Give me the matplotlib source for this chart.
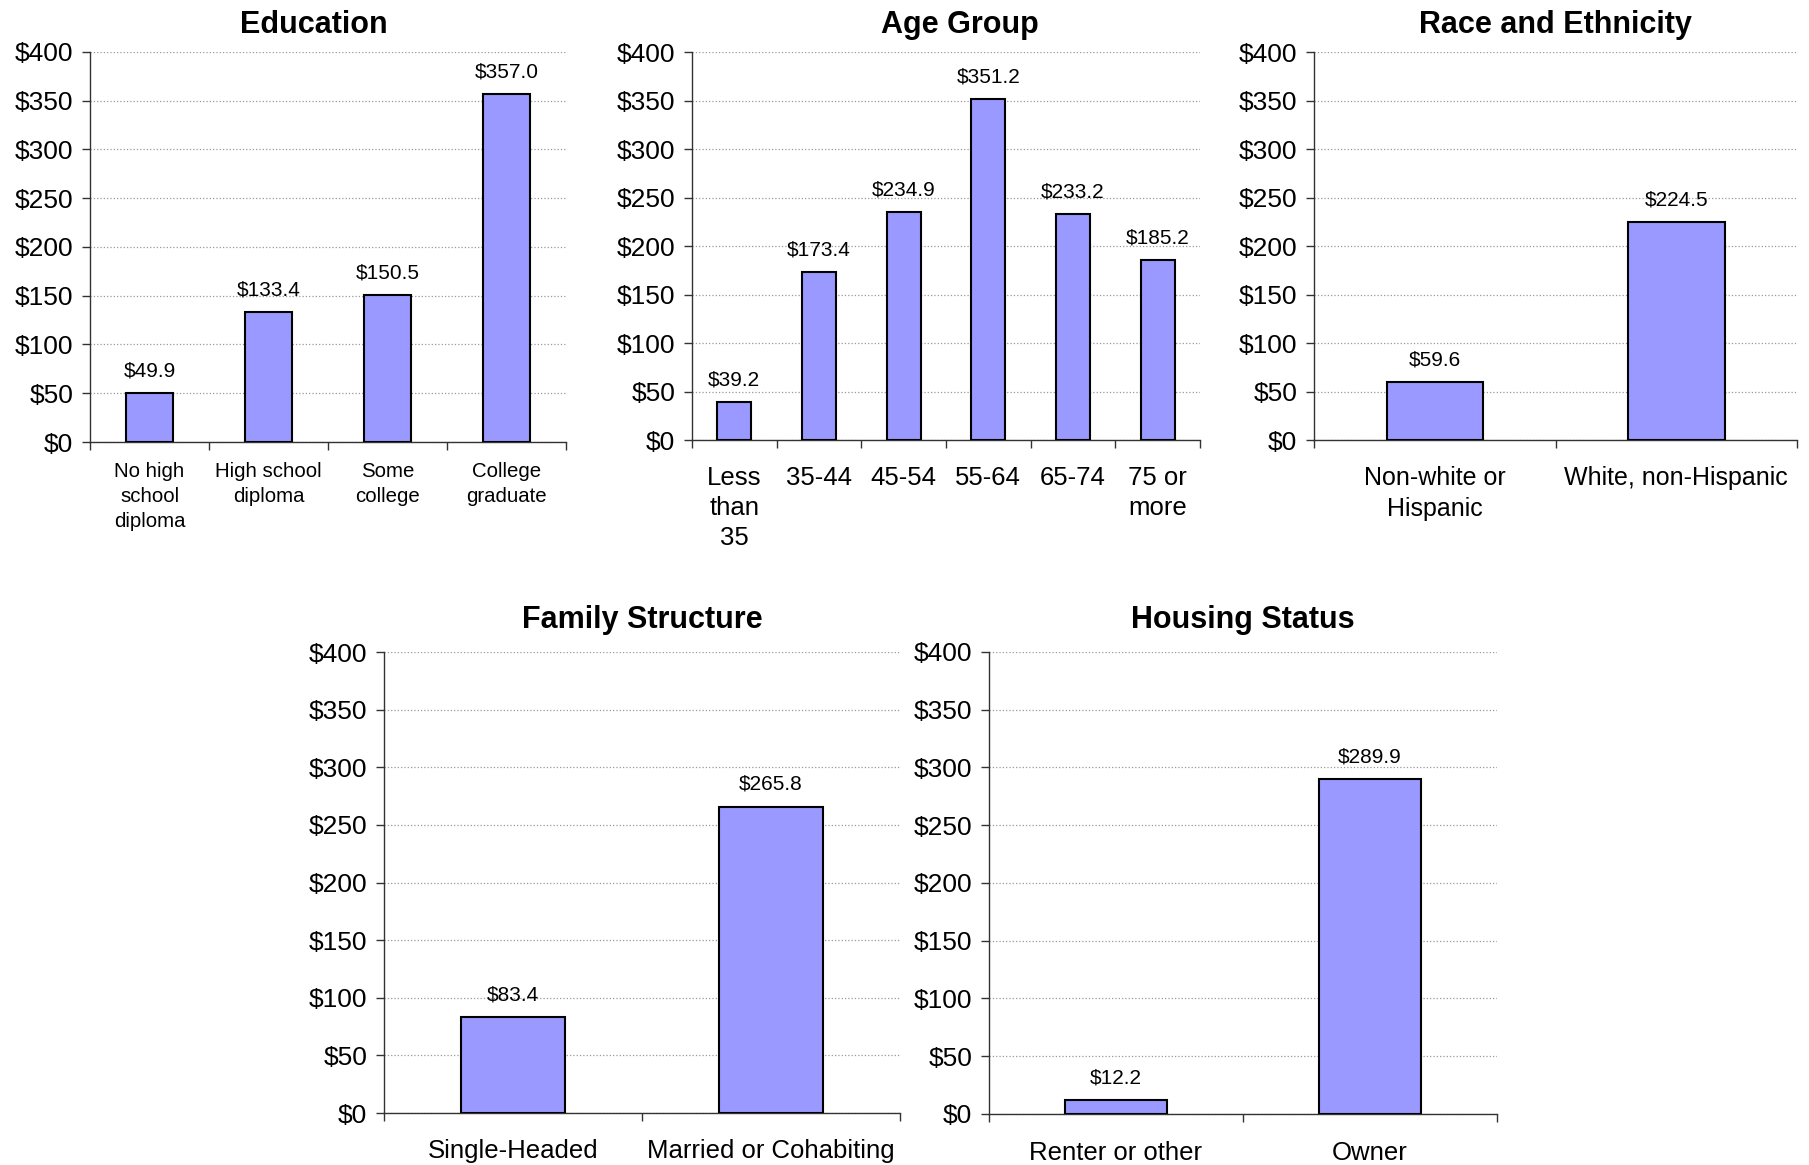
import matplotlib
matplotlib.use("Agg")
import matplotlib.pyplot as plt
from matplotlib.ticker import FixedLocator, FuncFormatter

plt.rcParams['font.family'] = ['Liberation Sans', 'DejaVu Sans']

edu_labels = ["No high\nschool\ndiploma", "High school\ndiploma", "Some\ncollege", "College\ngraduate"]
edu_values = [49.9, 133.4, 150.5, 357.0]

age_labels = ["Less\nthan\n35", "35-44", "45-54", "55-64", "65-74", "75 or\nmore"]
age_values = [39.2, 173.4, 234.9, 351.2, 233.2, 185.2]

race_labels = ["Non-white or\nHispanic", "White, non-Hispanic"]
race_values = [59.6, 224.5]

family_labels = ["Single-Headed", "Married or Cohabiting"]
family_values = [83.4, 265.8]

housing_labels = ["Renter or other", "Owner"]
housing_values = [12.2, 289.9]

y_ticks = [0, 50, 100, 150, 200, 250, 300, 350, 400]

BAR_COLOR = '#9999FF'


def draw_panel(ax, title, labels, values, label_size, label_pad, title_pad,
               spacing=1.33, title_x=0.5):
    n = len(values)
    x = list(range(n))
    ax.bar(x, values, width=0.4, color=BAR_COLOR, edgecolor='black', linewidth=1.5, zorder=3)
    for xi, v in zip(x, values):
        ax.annotate(f"${v:.1f}", (xi, v), xytext=(0, 16), textcoords='offset points',
                    ha='center', va='center', fontsize=15, zorder=4)

    ax.set_xlim(-0.5, n - 0.5)
    ax.set_ylim(0, 400)
    ax.set_yticks(y_ticks)
    ax.yaxis.set_major_formatter(FuncFormatter(lambda v, p: f"${v:.0f}"))

    # tick marks sit between categories, labels sit under the bars
    ax.xaxis.set_major_locator(FixedLocator([i - 0.5 for i in range(n + 1)]))
    ax.xaxis.set_major_formatter(FuncFormatter(lambda v, p: ""))
    ax.xaxis.set_minor_locator(FixedLocator(x))
    ax.set_xticklabels(labels, minor=True, fontsize=label_size, linespacing=spacing)
    ax.tick_params(axis='x', which='major', direction='out', length=6, width=1, color='#333333')
    ax.tick_params(axis='x', which='minor', length=0, pad=label_pad)
    ax.tick_params(axis='y', direction='out', length=6, width=1, color='#333333', labelsize=19, pad=6)

    ax.grid(axis='y', linestyle=':', color='#999999', linewidth=0.9, zorder=0)
    for side in ['top', 'right']:
        ax.spines[side].set_visible(False)
    for side in ['left', 'bottom']:
        ax.spines[side].set_color('#333333')
        ax.spines[side].set_linewidth(1.0)
    ax.set_title(title, fontsize=22, fontweight='bold', pad=title_pad, x=title_x)


fig = plt.figure(figsize=(18.09, 11.65), dpi=100)

ax_edu = fig.add_axes([0.0498, 0.6206, 0.263, 0.3348])
ax_age = fig.add_axes([0.3825, 0.6223, 0.2808, 0.333])
ax_race = fig.add_axes([0.7264, 0.6223, 0.267, 0.333])
ax_fam = fig.add_axes([0.2123, 0.0446, 0.2852, 0.3957])
ax_house = fig.add_axes([0.5467, 0.0438, 0.2808, 0.3966])

draw_panel(ax_edu, "Education", edu_labels, edu_values, 14.7, 14.5, 14,
           spacing=1.4, title_x=0.471)
draw_panel(ax_age, "Age Group", age_labels, age_values, 18.5, 18.5, 14, title_x=0.527)
draw_panel(ax_race, "Race and Ethnicity", race_labels, race_values, 18, 19, 14)
draw_panel(ax_fam, "Family Structure", family_labels, family_values, 18.5, 19, 17.5)
draw_panel(ax_house, "Housing Status", housing_labels, housing_values, 18.5, 19.5, 17.5)

fig.savefig("out.png", dpi=100)
